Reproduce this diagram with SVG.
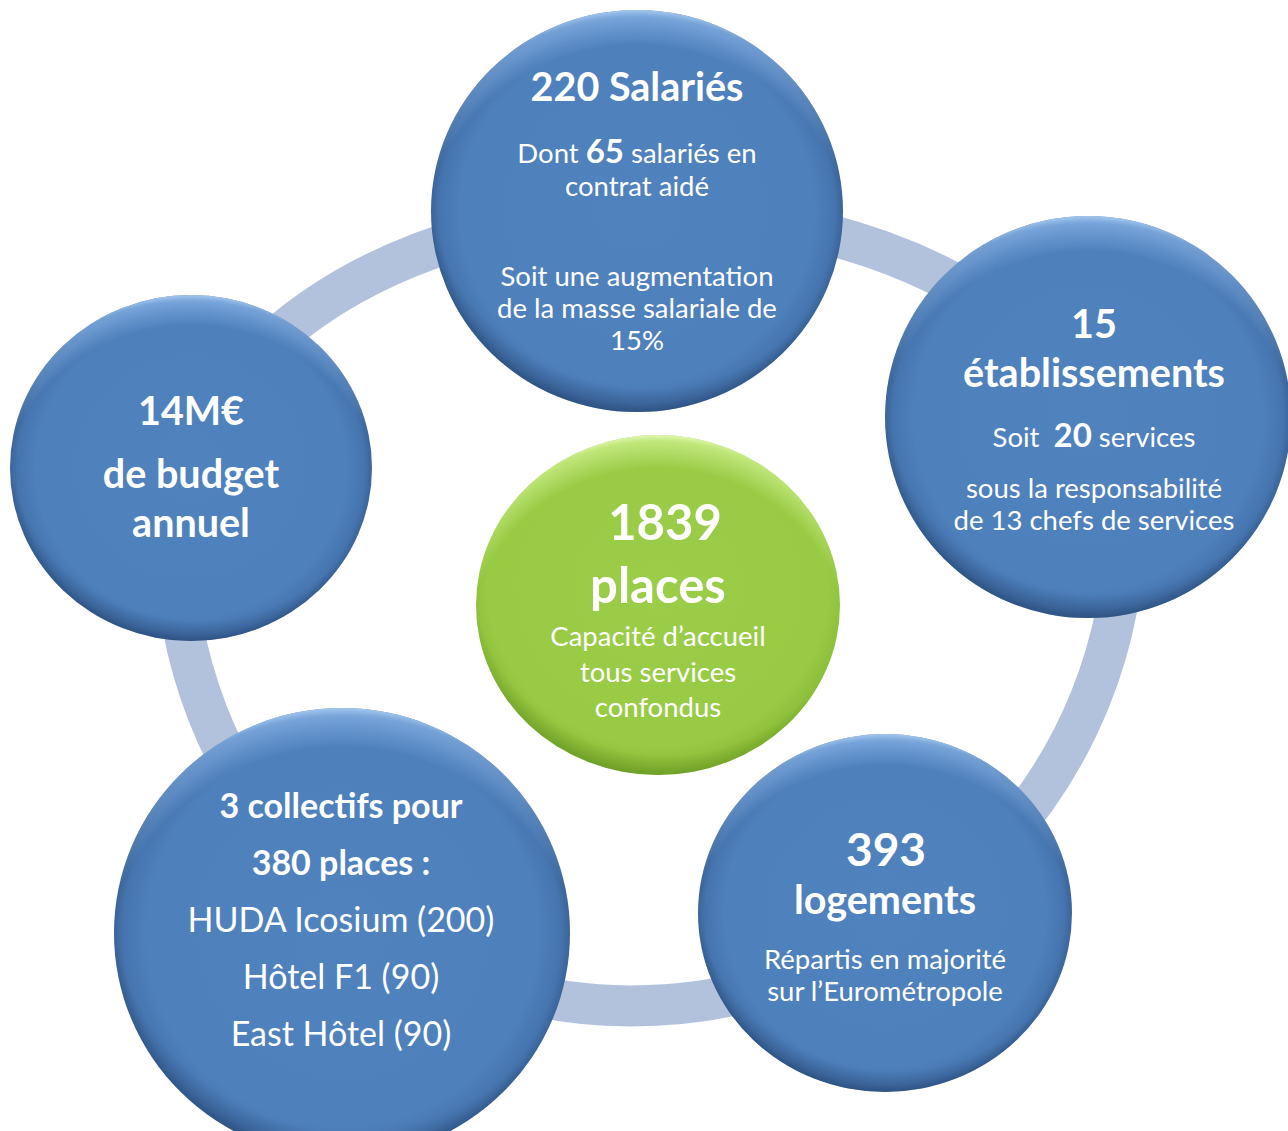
<svg xmlns="http://www.w3.org/2000/svg" width="1288" height="1131" viewBox="0 0 1288 1131">
<defs>
<radialGradient id="blueBase" cx="0.5" cy="0.5" r="0.5">
<stop offset="0" stop-color="#5082be"/>
<stop offset="0.86" stop-color="#4e80bc"/>
<stop offset="0.96" stop-color="#4674ae"/>
<stop offset="1" stop-color="#3b6499"/>
</radialGradient>
<radialGradient id="blueHi" cx="0.5" cy="0.62" r="0.62">
<stop offset="0" stop-color="#9fcbff" stop-opacity="0"/>
<stop offset="0.86" stop-color="#9fcbff" stop-opacity="0"/>
<stop offset="0.97" stop-color="#9fcbff" stop-opacity="0.55"/>
<stop offset="1" stop-color="#b8dcff" stop-opacity="0.85"/>
</radialGradient>
<radialGradient id="blueSh" cx="0.52" cy="0.42" r="0.58">
<stop offset="0" stop-color="#1f3f6a" stop-opacity="0"/>
<stop offset="0.9" stop-color="#1f3f6a" stop-opacity="0"/>
<stop offset="1" stop-color="#1f3f6a" stop-opacity="0.45"/>
</radialGradient>
<radialGradient id="greenBase" cx="0.5" cy="0.45" r="0.55">
<stop offset="0" stop-color="#9ccd49"/>
<stop offset="0.85" stop-color="#98ca44"/>
<stop offset="1" stop-color="#86b935"/>
</radialGradient>
<radialGradient id="greenHi" cx="0.5" cy="0.62" r="0.62">
<stop offset="0" stop-color="#e2ffa8" stop-opacity="0"/>
<stop offset="0.84" stop-color="#e2ffa8" stop-opacity="0"/>
<stop offset="0.97" stop-color="#e2ffa8" stop-opacity="0.55"/>
<stop offset="1" stop-color="#f0ffc8" stop-opacity="0.85"/>
</radialGradient>
<radialGradient id="greenSh" cx="0.52" cy="0.42" r="0.58">
<stop offset="0" stop-color="#4e7a12" stop-opacity="0"/>
<stop offset="0.9" stop-color="#4e7a12" stop-opacity="0"/>
<stop offset="1" stop-color="#4e7a12" stop-opacity="0.4"/>
</radialGradient>
</defs>
<style>
.ring{fill:none;stroke:#b2c2dd;stroke-width:41}
.bb{fill:url(#blueBase)}
.bh{fill:url(#blueHi)}
.bs{fill:url(#blueSh)}
.gb{fill:url(#greenBase)}
.gh{fill:url(#greenHi)}
.gs{fill:url(#greenSh)}
text{font-family:Lato,"Open Sans","Liberation Sans",sans-serif;fill:#ffffff;text-anchor:middle}
.b{font-weight:bold}
.s27{font-size:27.5px}
.s34{font-size:34px}
.s39{font-size:39.5px}
.s48{font-size:49px}
</style>
<rect x="0" y="0" width="1288" height="1131" fill="#ffffff"/>
<g id="connectors">
<path class="ring" d="M650,212 A475,308 0 0 1 1125,520 A495,486 0 0 1 630,1006 A455,466 0 0 1 175,540 A475,328 0 0 1 650,212 Z"/>
</g>
<g id="node-salaries">
<ellipse class="bb" cx="637" cy="211" rx="206" ry="201"/>
<ellipse class="bs" cx="637" cy="211" rx="206" ry="201"/>
<ellipse class="bh" cx="637" cy="211" rx="206" ry="201"/>
<text class="b s39" x="637" y="101">220 Salariés</text>
<text class="s27" x="637" y="163">Dont <tspan class="b" font-size="33px">65</tspan> salariés en</text>
<text class="s27" x="637" y="196">contrat aidé</text>
<text class="s27" x="637" y="286">Soit une augmentation</text>
<text class="s27" x="637" y="318">de la masse salariale de</text>
<text class="s27" x="637" y="350">15%</text>
</g>
<g id="node-etablissements">
<ellipse class="bb" cx="1088" cy="417" rx="203" ry="201"/>
<ellipse class="bs" cx="1088" cy="417" rx="203" ry="201"/>
<ellipse class="bh" cx="1088" cy="417" rx="203" ry="201"/>
<text class="b s39" x="1094" y="338">15</text>
<text class="b s39" x="1094" y="387">établissements</text>
<text class="s27" x="1094" y="447">Soit <tspan class="b" font-size="33px" dx="7">20</tspan> services</text>
<text class="s27" x="1094" y="498">sous la responsabilité</text>
<text class="s27" x="1094" y="530">de 13 chefs de services</text>
</g>
<g id="node-budget">
<ellipse class="bb" cx="191" cy="468" rx="181" ry="173"/>
<ellipse class="bs" cx="191" cy="468" rx="181" ry="173"/>
<ellipse class="bh" cx="191" cy="468" rx="181" ry="173"/>
<text class="b s39" x="191" y="425">14M€</text>
<text class="b s39" x="191" y="488">de budget</text>
<text class="b s39" x="191" y="537">annuel</text>
</g>
<g id="node-collectifs">
<ellipse class="bb" cx="342" cy="933" rx="228" ry="225"/>
<ellipse class="bs" cx="342" cy="933" rx="228" ry="225"/>
<ellipse class="bh" cx="342" cy="933" rx="228" ry="225"/>
<text class="b s34" x="341" y="818">3 collectifs pour</text>
<text class="b s34" x="341" y="875">380 places :</text>
<text class="s34" x="341" y="932">HUDA Icosium (200)</text>
<text class="s34" x="341" y="989">Hôtel F1 (90)</text>
<text class="s34" x="341" y="1046">East Hôtel (90)</text>
</g>
<g id="node-logements">
<ellipse class="bb" cx="885" cy="913" rx="187" ry="179"/>
<ellipse class="bs" cx="885" cy="913" rx="187" ry="179"/>
<ellipse class="bh" cx="885" cy="913" rx="187" ry="179"/>
<text class="b" font-size="46px" x="886" y="866">393</text>
<text class="b s39" x="885" y="914">logements</text>
<text class="s27" x="885" y="969">Répartis en majorité</text>
<text class="s27" x="885" y="1001">sur l’Eurométropole</text>
</g>
<g id="node-places">
<ellipse class="gb" cx="658" cy="605" rx="182" ry="170"/>
<ellipse class="gs" cx="658" cy="605" rx="182" ry="170"/>
<ellipse class="gh" cx="658" cy="605" rx="182" ry="170"/>
<text class="b s48" x="665" y="540">1839</text>
<text class="b s48" x="658" y="603">places</text>
<text class="s27" x="658" y="646">Capacité d’accueil</text>
<text class="s27" x="658" y="682">tous services</text>
<text class="s27" x="658" y="717">confondus</text>
</g>
</svg>
